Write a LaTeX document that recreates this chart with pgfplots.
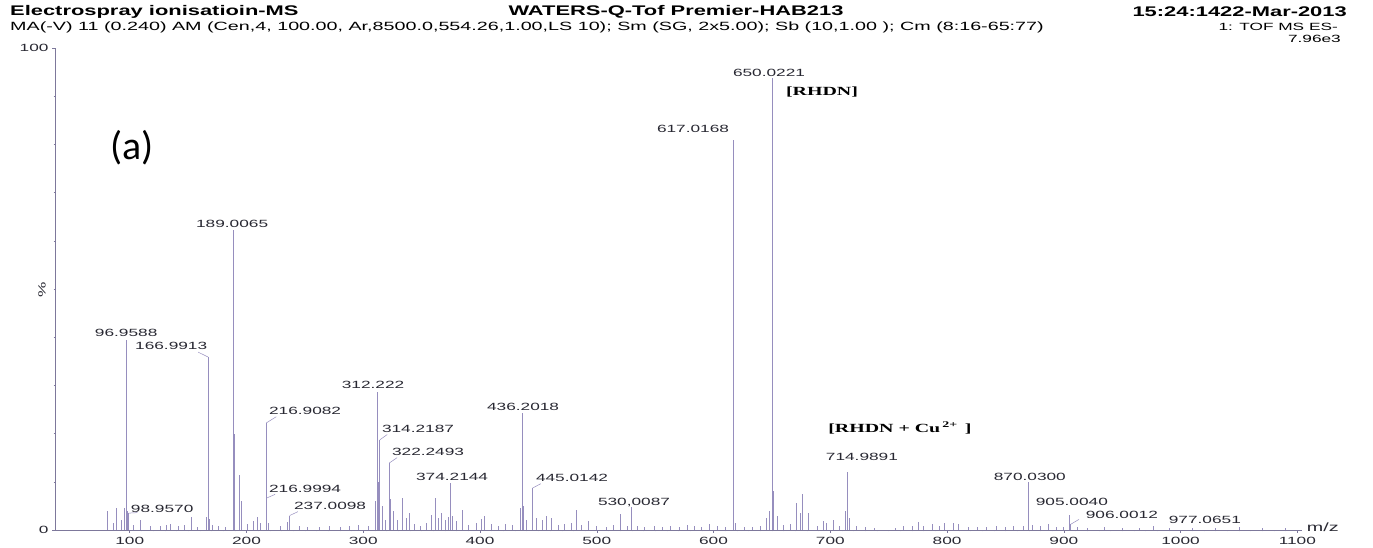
\documentclass[border=0pt]{standalone}
\usepackage{fontspec}
\setmainfont{Liberation Sans}
\newfontfamily\lab[FakeStretch=1.65]{Liberation Sans}
\newfontfamily\hdr[FakeStretch=1.57]{Liberation Sans}
\newfontfamily\ser[FakeStretch=1.6]{Liberation Serif}
\newfontfamily\carl{Carlito}
\usepackage{pgfplots}
\pgfplotsset{compat=1.18}

\definecolor{spec}{RGB}{150,142,190}
\definecolor{axc}{RGB}{125,120,155}
\definecolor{txt}{RGB}{40,40,50}

\newcommand{\pk}{\lab\fontsize{10.5}{10.5}\selectfont}
\tikzset{lbl/.style={font=\pk, text=txt, inner sep=0pt},
         ldr/.style={spec, line width=0.5bp}}

\begin{document}
\begin{tikzpicture}[x=1bp,y=1bp]
\path[use as bounding box] (0,0) rectangle (1373,548);

% header lines
\node[anchor=west, inner sep=0, font=\hdr\bfseries\fontsize{14}{14}\selectfont] at (10,536) {Electrospray ionisatioin-MS};
\node[inner sep=0, font=\hdr\bfseries\fontsize{14}{14}\selectfont] at (676,536) {WATERS-Q-Tof Premier-HAB213};
\node[anchor=east, inner sep=0, font=\hdr\bfseries\fontsize{14}{14}\selectfont] at (1347,536) {15:24:1422-Mar-2013};
\node[anchor=west, inner sep=0, font=\lab\fontsize{12}{12}\selectfont] at (10,521) {MA(-V) 11 (0.240) AM (Cen,4, 100.00, Ar,8500.0,554.26,1.00,LS 10); Sm (SG, 2x5.00); Sb (10,1.00 ); Cm (8:16-65:77)};
\node[anchor=east, lbl, text=black] at (1338,521) {1: TOF MS ES-};
\node[anchor=east, lbl, text=black] at (1341,509) {7.96e3};

\node[inner sep=0, font=\carl\fontsize{40}{40}\selectfont] at (132,400) {(a)};
\node[rotate=90, lbl] at (42,258) {\%};

\begin{axis}[
    at={(55bp,18bp)}, anchor=south west,
    scale only axis, width=1247bp, height=482bp,
    xmin=36, xmax=1104, ymin=0, ymax=100,
    axis lines*=left,
    axis line style={axc, line width=0.6bp},
    xtick={100,200,...,1100}, ytick={0,100},
    minor x tick num=9, minor y tick num=9,
    tick align=outside,
    major tick length=3bp, minor tick length=1.5bp,
    tick style={axc, line width=0.5bp},
    /pgf/number format/assume math mode=true,
    /pgf/number format/1000 sep={},
    xticklabel style={font=\pk, text=txt, yshift=-1bp},
    yticklabel style={font=\pk, text=txt},
    clip=false,
]
\addplot[ycomb, spec, line width=0.75bp, mark=none] coordinates {
(80.5,4.0) (86,1.5) (88.5,4.5) (93,2.0) (95.5,4.5) (96.9588,39.4) (97.8,4.0)
(98.957,3.5) (103,1.0) (109,2.0) (118,0.8) (126,0.8) (131,1.0) (135,1.3)
(142,0.8) (147,1.0) (153,2.6) (158,0.7) (165.5,2.8) (166.9913,35.9) (168,2.2)
(171,1.0) (176,0.8) (182,0.6) (189.0065,62.2) (190.0,20.0) (193.5,11.5)
(195.5,6.0) (201,1.2) (206,1.8) (209,2.6) (212,1.5) (216.9082,22.2)
(216.9994,6.6) (219,1.5) (229,0.8) (235,1.6) (237.0098,3.0) (245,0.8)
(252,0.6) (262,0.7) (271,0.9) (280,0.7) (288,0.8) (296,1.1) (304,0.9)
(310.5,6.0) (312.222,28.6) (313.2,10.0) (314.2187,18.7) (316,5.0) (319,2.0)
(322.2493,13.9) (323.5,6.5) (325.5,4.0) (329,2.0) (333.5,6.6) (337,2.5)
(339.5,3.5) (344,1.2) (349,0.9) (354,1.5) (358.5,3.2) (361.5,6.6) (364,2.5)
(367,3.5) (370,2.0) (372.5,2.8) (374.2144,9.8) (376,3.0) (380,1.8) (385,4.2)
(390,1.0) (397,1.5) (401,2.2) (404,3.0) (410,1.2) (416,0.9) (422,1.2)
(428,1.0) (434.5,4.5) (436.2018,24.3) (437.5,5.0) (440,2.0) (445.0142,8.7)
(448,2.5) (453,2.0) (457,3.0) (461,2.5) (467,1.0) (472,1.2) (478,1.5)
(482.5,4.2) (487,1.0) (493,1.8) (500,0.9) (508,0.7) (514,1.0) (520,3.4)
(526,0.8) (530.0087,4.8) (535,0.8) (541,0.7) (549,0.9) (556,0.6) (563,0.8)
(571,0.7) (578,1.0) (584,0.8) (590,0.7) (596,1.3) (603,0.8) (610,0.7)
(617.0168,80.9) (619,1.5) (626,0.6) (633,0.7) (640,0.8) (645,2.5) (648,4.0)
(650.0221,93.8) (651.5,8.0) (655,3.0) (660,1.0) (666,1.2) (671,5.5) (674,3.5)
(676,7.5) (681,3.5) (689,0.8) (694,1.8) (697,1.5) (703,2.0) (708,0.9)
(713,4.0) (714.9891,12.0) (716.5,2.5) (722,0.8) (730,0.6) (738,0.5)
(756,0.5) (763,0.8) (770,0.9) (775,1.6) (780,0.8) (787,1.2) (793,0.9)
(798,1.4) (805,1.5) (810,1.3) (818,0.6) (826,0.7) (834,0.6) (842,0.8)
(850,0.7) (857,0.9) (865,0.8) (870.03,10.0) (873,1.0) (880,0.9) (887,1.2)
(894,0.7) (900,0.6) (905.004,3.1) (906.0012,1.2) (912,0.6) (920,0.5)
(935,0.6) (950,0.5) (965,0.5) (977.0651,0.9) (990,0.4) (1010,0.5)
(1030,0.4) (1050,0.6) (1070,0.4) (1090,0.4)
};

% peak labels
\node[lbl] at (axis cs:96.96,40.9) {96.9588};
\node[lbl] at (axis cs:135.5,38.2) {166.9913};
\node[lbl] at (axis cs:187.7,63.5) {189.0065};
\node[lbl] at (axis cs:250.2,24.7) {216.9082};
\node[lbl] at (axis cs:250.2,8.5) {216.9994};
\node[lbl] at (axis cs:127.8,4.4) {98.9570};
\node[lbl] at (axis cs:271.6,5.0) {237.0098};
\node[lbl] at (axis cs:308.4,30.1) {312.222};
\node[lbl] at (axis cs:346.9,21.0) {314.2187};
\node[lbl] at (axis cs:355.5,16.2) {322.2493};
\node[lbl] at (axis cs:376.1,11.0) {374.2144};
\node[lbl] at (axis cs:436.9,25.5) {436.2018};
\node[lbl] at (axis cs:478.8,10.8) {445.0142};
\node[lbl] at (axis cs:531.9,5.8) {530,0087};
\node[lbl] at (axis cs:582.4,83.2) {617.0168};
\node[lbl] at (axis cs:647.5,94.8) {650.0221};
\node[lbl] at (axis cs:727.1,15.1) {714.9891};
\node[lbl] at (axis cs:870.9,11.0) {870.0300};
\node[lbl] at (axis cs:906.9,5.8) {905.0040};
\node[lbl] at (axis cs:949.7,3.1) {906.0012};
\node[lbl] at (axis cs:1020.8,2.1) {977.0651};
\node[lbl, text=black, font=\ser\bfseries\fontsize{12.5}{12.5}\selectfont] at (axis cs:692.9,90.9) {[RHDN]};
\node[lbl, text=black, font=\ser\bfseries\fontsize{12.5}{12.5}\selectfont] at (axis cs:759.6,21.2) {[RHDN + Cu\,\textsuperscript{2+}\, ]};
\node[lbl, anchor=west, font=\lab\fontsize{12}{12}\selectfont] at (axis cs:1108,0.6) {m/z};

% leader lines
\draw[ldr] (axis cs:158.6,36.9) -- (axis cs:166.99,35.9);
\draw[ldr] (axis cs:216.9,22.2) -- (axis cs:225.5,23.5);
\draw[ldr] (axis cs:217.0,6.6) -- (axis cs:224.5,7.4);
\draw[ldr] (axis cs:98.96,3.5) -- (axis cs:106.5,3.6);
\draw[ldr] (axis cs:237.0,3.0) -- (axis cs:244,3.8);
\draw[ldr] (axis cs:314.2,18.7) -- (axis cs:320.5,19.8);
\draw[ldr] (axis cs:322.25,13.9) -- (axis cs:329,15.0);
\draw[ldr] (axis cs:445.0,8.7) -- (axis cs:452,9.6);
\draw[ldr] (axis cs:906.0,1.2) -- (axis cs:913,2.2);
\end{axis}
\end{tikzpicture}
\end{document}
